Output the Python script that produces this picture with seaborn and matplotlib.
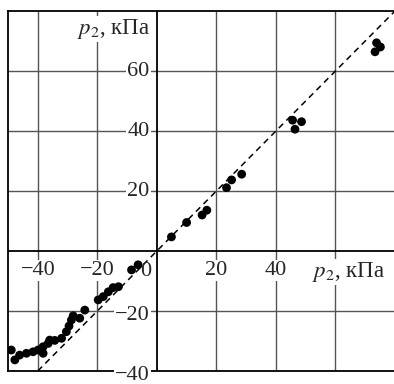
import numpy as np
import matplotlib
matplotlib.use('Agg')
import matplotlib.pyplot as plt
import seaborn as sns

# measured vs calculated pressure, kPa
p_calc = [-48.9, -47.7, -46.1, -43.8, -41.6, -39.9, -38.2, -38.2, -36.5, -36.0,
          -34.3, -32.0, -30.4, -29.5, -28.7, -28.1, -25.9, -24.2, -19.7, -18.0,
          -16.3, -14.7, -12.9, -8.5, -6.3, 4.9, 10.0, 15.2, 16.8, 23.4,
          25.1, 28.5, 45.6, 46.4, 48.6, 73.3, 73.8, 75.1]
p_meas = [-33.0, -36.3, -34.7, -34.1, -33.6, -33.0, -31.9, -34.1, -30.8, -29.7,
          -29.8, -29.1, -26.9, -25.0, -23.0, -21.6, -22.4, -19.7, -16.3, -15.2,
          -13.6, -12.2, -11.9, -6.3, -4.6, 4.7, 9.5, 12.0, 13.6, 21.1,
          23.7, 25.6, 43.6, 40.6, 43.1, 66.4, 69.4, 68.0]

x_ticks = [-40, -20, 20, 40]
y_ticks = [-40, -20, 20, 40, 60]
grid_vals = [-40, -20, 20, 40, 60]
axis_label = '$p_2$, кПа'

sns.set_style('white')
plt.rcParams['font.family'] = ['Liberation Serif', 'DejaVu Serif']
plt.rcParams['mathtext.fontset'] = 'stix'
plt.rcParams['axes.unicode_minus'] = True

fig = plt.figure(figsize=(3.94, 3.84), dpi=100)
ax = fig.add_axes([8 / 394, 13 / 384, 387 / 394, 360 / 384])
ax.set_xlim(-50, 80)
ax.set_ylim(-40, 80)

# grid
ax.set_xticks(grid_vals)
ax.set_yticks(grid_vals)
ax.grid(True, color='#555555', lw=1)
ax.tick_params(length=0, labelbottom=False, labelleft=False)
for s in ax.spines.values():
    s.set_color('black')
    s.set_linewidth(1.3)

# axes through origin
ax.axhline(0, color='black', lw=1.3, zorder=2)
ax.axvline(0, color='black', lw=1.3, zorder=2)

# y = x reference line
ax.axline((0, 0), slope=1, color='black', lw=1.1, ls=(0, (4, 3)), zorder=3)

sns.scatterplot(x=p_calc, y=p_meas, ax=ax, color='black', s=40,
                edgecolor='none', zorder=4, legend=False)

box = dict(facecolor='white', edgecolor='none', pad=1)
fs = 16
for v in x_ticks:
    ax.text(v, -6.5, f'{v}'.replace('-', '\u2212'), ha='center', va='center',
            fontsize=fs, bbox=box, zorder=5)
ax.text(-3.8, -7, '0', ha='center', va='center', fontsize=fs, zorder=5)
for v in y_ticks:
    ax.text(-2.4, v + (-1.5 if v < 0 else 0), f'{v}'.replace('-', '\u2212'),
            ha='right', va='center', fontsize=fs, bbox=box, zorder=5)

ax.text(-2.4, 74, axis_label, ha='right', va='center', fontsize=16.5,
        bbox=box, zorder=5)
ax.text(52, -7, axis_label, ha='left', va='center', fontsize=16.5,
        bbox=box, zorder=5)

fig.savefig('out.png', dpi=100)
